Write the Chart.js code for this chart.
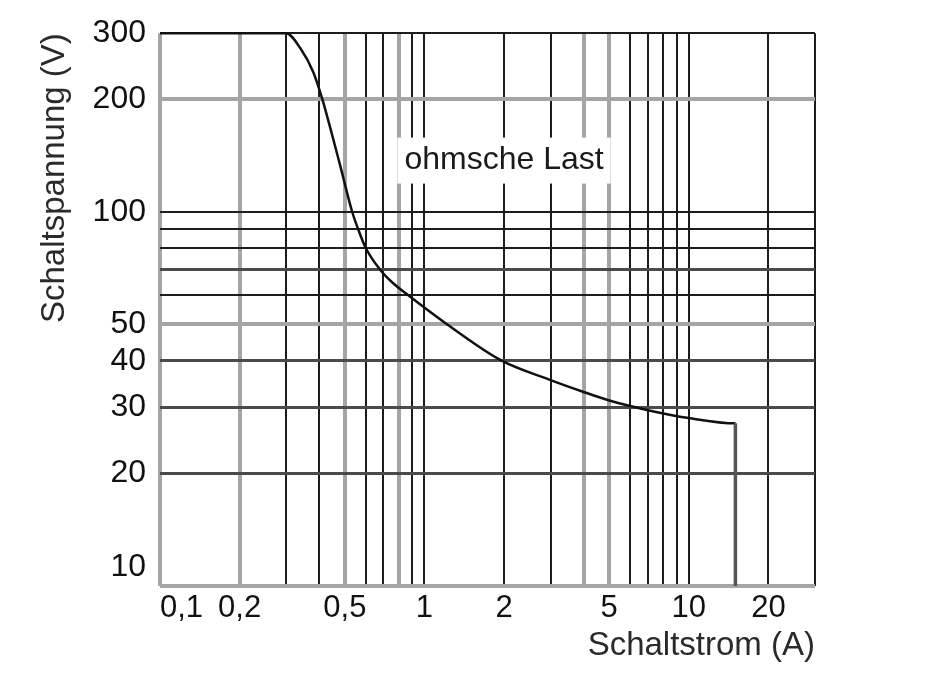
<!DOCTYPE html>
<html lang="de">
<head>
<meta charset="utf-8">
<title>Schaltspannung / Schaltstrom</title>
<script src="https://cdn.jsdelivr.net/npm/chart.js@4.4.1/dist/chart.umd.min.js"></script>
<style>
  html, body { margin: 0; padding: 0; background: #fff; }
  #wrap { width: 942px; height: 675px; }
</style>
</head>
<body>
<div id="wrap"><canvas id="chart"></canvas></div>
<script>
// === Daten ===
const stromA = [0.1, 0.3, 0.34, 0.38, 0.411, 0.44, 0.48, 0.533, 0.561, 0.6, 0.68, 0.76, 0.864, 1.22, 1.96, 3, 4, 5, 7, 10, 15, 15];
const spannungV = [300, 300, 273, 236, 200, 168, 133, 100, 90, 80, 70, 64.5, 60, 50, 40, 35.5, 33, 31.3, 29.5, 28.1, 27.2, 10];

// Gitterlinien und beschriftete Werte
const xGrid = [0.1, 0.2, 0.3, 0.4, 0.5, 0.6, 0.7, 0.8, 0.9, 1, 2, 3, 4, 5, 6, 7, 8, 9, 10, 20, 30];
const yGrid = [10, 20, 30, 40, 50, 60, 70, 80, 90, 100, 200, 300];
const xLabels = [0.1, 0.2, 0.5, 1, 2, 5, 10, 20];
const yLabels = [10, 20, 30, 40, 50, 100, 200, 300];

const noteText = "ohmsche Last";
const noteAt = { x: 2, y: 137 };

// === Stil der Gitterlinien ===
const grauX = [0.1, 0.2, 0.5, 0.8, 4, 5];
const grauY = [10, 50, 200];
const dunkelY = [20, 30, 40, 70];

function lineStyle(v, grau, dunkel, what) {
  if (grau.includes(v)) return what === "color" ? "#a5a5a5" : 4;
  if (dunkel.includes(v)) return what === "color" ? "#4a4a4a" : 3;
  return what === "color" ? "#1c1c1c" : 2;
}

function deComma(v) {
  return String(v).replace(".", ",");
}

Chart.defaults.font.family = "'Liberation Sans', Arial, sans-serif";
Chart.defaults.color = "#111";

// Beschriftung "ohmsche Last" mit weissem Hintergrund
const notePlugin = {
  id: "note",
  beforeDatasetsDraw(chart) {
    const { ctx, scales } = chart;
    const px = scales.x.getPixelForValue(noteAt.x);
    const py = scales.y.getPixelForValue(noteAt.y);
    ctx.save();
    ctx.font = "32px 'Liberation Sans', Arial, sans-serif";
    const w = ctx.measureText(noteText).width;
    ctx.fillStyle = "#fff";
    ctx.fillRect(px - w / 2 - 7, py - 23, w + 14, 46);
    ctx.fillStyle = "#1a1a1a";
    ctx.textAlign = "center";
    ctx.textBaseline = "middle";
    ctx.fillText(noteText, px, py);
    ctx.restore();
  }
};

const lastSeg = stromA.length - 2;

new Chart(document.getElementById("chart"), {
  type: "line",
  data: {
    datasets: [{
      label: noteText,
      data: stromA.map((x, i) => ({ x: x, y: spannungV[i] })),
      borderColor: "#111",
      borderWidth: 2.5,
      pointRadius: 0,
      cubicInterpolationMode: "monotone",
      clip: false,
      segment: {
        borderColor: c => c.p0DataIndex === lastSeg ? "#555" : "#111",
        borderWidth: c => c.p0DataIndex === lastSeg ? 3.5 : 2.5
      }
    }]
  },
  options: {
    responsive: true,
    maintainAspectRatio: false,
    animation: false,
    layout: { padding: { left: 35, right: 127, top: 30, bottom: 0 } },
    plugins: {
      legend: { display: false },
      tooltip: { enabled: false }
    },
    scales: {
      x: {
        type: "logarithmic",
        min: 0.1,
        max: 30,
        afterBuildTicks: axis => { axis.ticks = xGrid.map(v => ({ value: v })); },
        afterFit: scale => { scale.height = 89; },
        border: { display: false },
        grid: {
          drawTicks: false,
          color: c => lineStyle(c.tick.value, grauX, [], "color"),
          lineWidth: c => lineStyle(c.tick.value, grauX, [], "width")
        },
        ticks: {
          autoSkip: false,
          maxRotation: 0,
          align: "inner",
          padding: 4,
          color: "#111",
          font: { size: 31 },
          callback: v => xLabels.includes(v) ? deComma(v) : ""
        },
        title: {
          display: true,
          text: "Schaltstrom (A)",
          align: "end",
          color: "#2a2a2a",
          font: { size: 33 },
          padding: { top: 0, bottom: 9 }
        }
      },
      y: {
        type: "logarithmic",
        min: 10,
        max: 300,
        afterBuildTicks: axis => { axis.ticks = yGrid.map(v => ({ value: v })); },
        afterFit: scale => { scale.width = 125; },
        border: { display: false },
        grid: {
          drawTicks: false,
          color: c => lineStyle(c.tick.value, grauY, dunkelY, "color"),
          lineWidth: c => lineStyle(c.tick.value, grauY, dunkelY, "width")
        },
        ticks: {
          autoSkip: false,
          padding: 14,
          color: "#111",
          font: { size: 32 },
          callback: v => {
            if (!yLabels.includes(v)) return "";
            // die 10 sitzt im Original etwas hoeher
            return v === 10 ? ["10", ""] : String(v);
          }
        },
        title: {
          display: true,
          text: "Schaltspannung (V)",
          align: "end",
          color: "#2a2a2a",
          font: { size: 33 },
          padding: { top: 0, bottom: 0 }
        }
      }
    }
  },
  plugins: [notePlugin]
});
</script>
</body>
</html>
